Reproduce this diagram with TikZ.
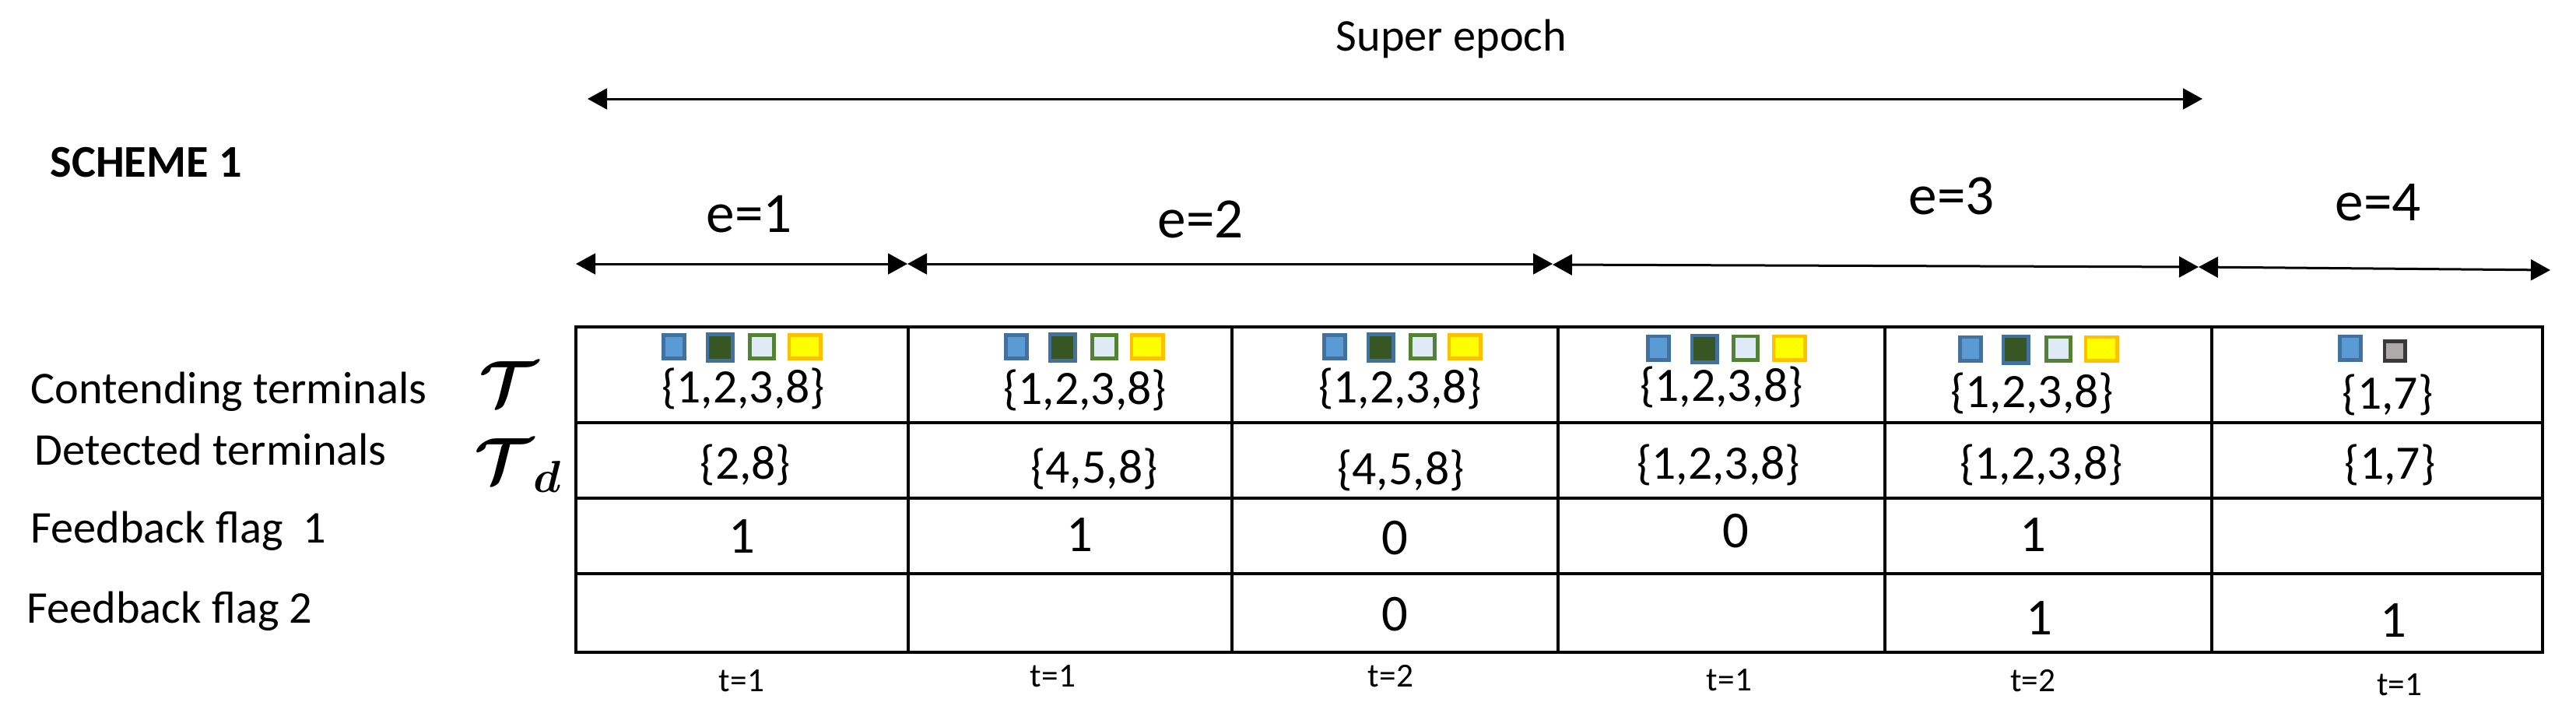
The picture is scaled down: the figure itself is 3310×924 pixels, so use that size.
\documentclass[tikz,border=0pt]{standalone}
\usepackage{amsmath}
\usepackage{fontspec}
\setmainfont{Carlito}
\usetikzlibrary{arrows.meta}
\definecolor{blueB}{HTML}{41719C}
\definecolor{blueF}{HTML}{5B9BD5}
\definecolor{dgreen}{HTML}{375623}
\definecolor{greenB}{HTML}{548235}
\definecolor{lightF}{HTML}{DEEBF7}
\definecolor{goldB}{HTML}{FFC000}
\definecolor{yelF}{HTML}{FFFF00}
\definecolor{grayB}{HTML}{3A3838}
\definecolor{grayF}{HTML}{AEAAAA}
\begin{document}
\begin{tikzpicture}[x=0.3pt,y=-0.3pt,
  dbl/.style={line width=0.9pt,{Triangle[length=7.5pt,width=8pt]}-{Triangle[length=7.5pt,width=8pt]}},
  grid/.style={line width=1.05pt},
  outer/.style={line width=1.35pt},
  lbl/.style={anchor=base west,inner sep=0pt,font=\fontsize{17.5}{20}\selectfont},
  cell/.style={anchor=base,inner sep=0pt,font=\fontsize{18.5}{21}\selectfont},
  flag/.style={anchor=base,inner sep=0pt,font=\fontsize{20}{23}\selectfont},
  tl/.style={anchor=base,inner sep=0pt,font=\fontsize{13}{15}\selectfont},
  elbl/.style={anchor=base,inner sep=0pt,font=\fontsize{22}{25}\selectfont},
  sym/.style={inner sep=0pt,font=\fontsize{25}{28}\selectfont},
  sq/.style={inner sep=0pt,line width=1.4pt,minimum width=8.2pt,minimum height=9.1pt},
  sa/.style={sq,draw=blueB,fill=blueF},
  sb/.style={sq,draw=blueB,fill=dgreen,minimum width=9.7pt,minimum height=10.3pt},
  sc/.style={sq,draw=greenB,fill=lightF,minimum width=9.4pt},
  sd/.style={sq,draw=goldB,fill=yelF,minimum width=12.1pt},
  se/.style={sq,draw=grayB,fill=grayF,minimum width=7.9pt,minimum height=7.6pt}]
\useasboundingbox (0,0) rectangle (3310,924);

% titles
\node[anchor=base west,inner sep=0pt,font=\fontsize{17.5}{20}\selectfont\bfseries] (scheme) at (64,227) {SCHEME 1};
\node[anchor=base,inner sep=0pt,font=\fontsize{17.5}{20}\selectfont] (super) at (1865,65) {Super epoch};

% super epoch arrow
\coordinate (s0) at (755,127);
\coordinate (s1) at (2830,127);
\draw[dbl] (s0) -- (s1);

% epoch arrows
\coordinate (j0) at (740,339);
\coordinate (j1) at (1166,339);
\coordinate (j2) at (1995,339);
\coordinate (j2b) at (1995,340);
\coordinate (j3) at (2825,343);
\coordinate (j4) at (3277,347);
\draw[dbl] (j0) -- (j1);
\draw[dbl] (j1) -- (j2);
\draw[dbl] (j2b) -- (j3);
\draw[dbl] (j3) -- (j4);
\node[elbl] (e1) at (963,298) {e=1};
\node[elbl] (e2) at (1543,305) {e=2};
\node[elbl] (e3) at (2508,275) {e=3};
\node[elbl] (e4) at (3056,283) {e=4};

% row labels
\node[lbl] (lc) at (39,518) {Contending terminals};
\node[lbl] (ld) at (44,597) {Detected terminals};
\node[lbl] (lf1) at (39,697) {Feedback flag\ \ 1};
\node[lbl] (lf2) at (34,800) {Feedback flag 2};
\node[sym] (tT) at (653,493) {$\boldsymbol{\mathcal{T}}$};
\node[sym] (tTd) at (666,598) {$\boldsymbol{\mathcal{T}}_{\boldsymbol{d}}$};

% table grid
\coordinate (tl) at (740,420);
\coordinate (br) at (3267,838);
\foreach \yy in {543,640,737} \draw[grid] (740,\yy) -- (3267,\yy);
\foreach \xx in {1583,2002,2422,2842} \draw[grid] (\xx,420) -- (\xx,838);
\draw[outer] (1167,420) -- (1167,838);
\draw[outer] (tl) rectangle (br);

% squares
\node[sa] (q11) at (866,445.5) {};
\node[sb] (q12) at (925,446.5) {};
\node[sc] (q13) at (979,445.5) {};
\node[sd] (q14) at (1034,445.5) {};
\node[sa] (q21) at (1306,445.5) {};
\node[sb] (q22) at (1365,446.5) {};
\node[sc] (q23) at (1419,445.5) {};
\node[sd] (q24) at (1474,445.5) {};
\node[sa] (q31) at (1715,445.5) {};
\node[sb] (q32) at (1774,446.5) {};
\node[sc] (q33) at (1828,445.5) {};
\node[sd] (q34) at (1882,445.5) {};
\node[sa] (q41) at (2131,447) {};
\node[sb] (q42) at (2190,448) {};
\node[sc] (q43) at (2243,447) {};
\node[sd] (q44) at (2299,447) {};
\node[sa] (q51) at (2532,448) {};
\node[sb] (q52) at (2590,449) {};
\node[sc] (q53) at (2645,448) {};
\node[sd] (q54) at (2700,448) {};
\node[sa] (q61) at (3020,447) {};
\node[se] (q62) at (3077,451) {};

% contending sets
\node[cell] (c1) at (955,517) {\{1,2,3,8\}};
\node[cell] (c2) at (1394,519) {\{1,2,3,8\}};
\node[cell] (c3) at (1799,517) {\{1,2,3,8\}};
\node[cell] (c4) at (2212,515) {\{1,2,3,8\}};
\node[cell] (c5) at (2611,523) {\{1,2,3,8\}};
\node[cell] (c6) at (3068,525) {\{1,7\}};

% detected sets
\node[cell] (d1) at (958,615) {\{2,8\}};
\node[cell] (d2) at (1406,620) {\{4,5,8\}};
\node[cell] (d3) at (1800,622) {\{4,5,8\}};
\node[cell] (d4) at (2208,615) {\{1,2,3,8\}};
\node[cell] (d5) at (2623,615) {\{1,2,3,8\}};
\node[cell] (d6) at (3071,615) {\{1,7\}};

% feedback flag 1
\node[flag] (f11) at (953,710) {1};
\node[flag] (f12) at (1387,708) {1};
\node[flag] (f13) at (1792,712) {0};
\node[flag] (f14) at (2230,703) {0};
\node[flag] (f15) at (2612,708) {1};

% feedback flag 2
\node[flag] (f23) at (1792,810) {0};
\node[flag] (f25) at (2620,815) {1};
\node[flag] (f26) at (3075,818) {1};

% slot labels
\node[tl] (t1) at (953,888) {t=1};
\node[tl] (t2) at (1353,882) {t=1};
\node[tl] (t3) at (1787,882) {t=2};
\node[tl] (t4) at (2222,887) {t=1};
\node[tl] (t5) at (2612,888) {t=2};
\node[tl] (t6) at (3083,893) {t=1};
\end{tikzpicture}
\end{document}
